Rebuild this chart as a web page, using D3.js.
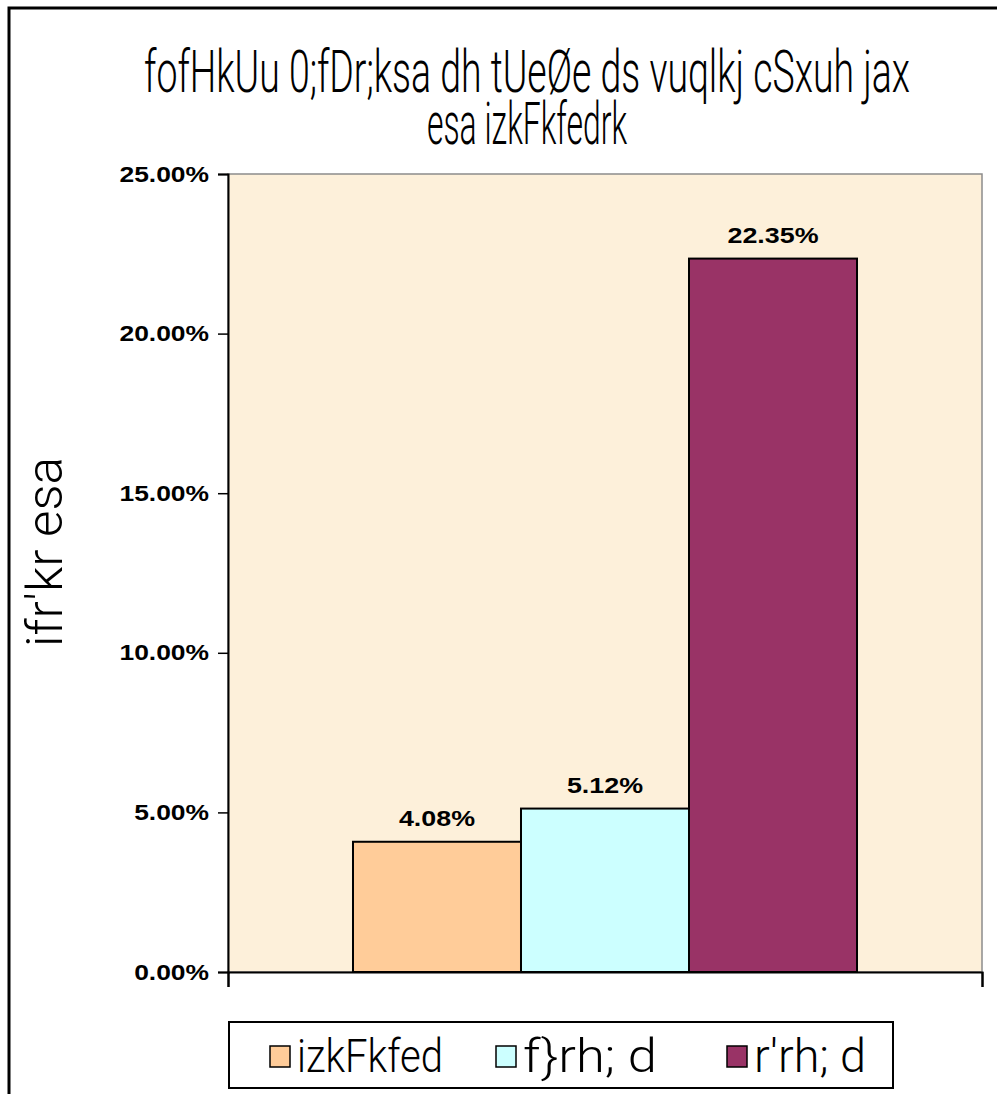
<!DOCTYPE html>
<html>
<head>
<meta charset="utf-8">
<script src="https://cdn.jsdelivr.net/npm/d3@7"></script>
<style>
  body { margin: 0; background: #fff; }
  svg { display: block; }
</style>
</head>
<body>
<svg id="chart" width="997" height="1094"></svg>
<script>
const seriesNames = ["izkFkfed", "f}rh; d", "r'rh; d"];
const seriesValues = [0.0408, 0.0512, 0.2235];
const seriesColors = ["#FFCC99", "#CCFFFF", "#993366"];
const categories = [""];
const yTicks = [0, 0.05, 0.10, 0.15, 0.20, 0.25];
const titleLines = ["fofHkUu 0;fDr;ksa dh tUeØe ds vuqlkj cSxuh jax", "esa izkFkfedrk"];
const yLabel = "ifr'kr esa";

const NARROW = "Roboto, Lato, 'DejaVu Sans Condensed', sans-serif";
const NUM = "'Liberation Sans', Arial, sans-serif";

const plot = { left: 228, right: 982, top: 174, bottom: 972 };
const svg = d3.select("#chart");

// stretch a text horizontally, the reference numbers are set wide
const widen = (sel, k) => sel
    .attr("textLength", function () { return this.getComputedTextLength() * k; })
    .attr("lengthAdjust", "spacingAndGlyphs");

// outer chart border (only left and top visible in the frame)
svg.append("rect")
    .attr("x", 9).attr("y", 8)
    .attr("width", 1100).attr("height", 1200)
    .attr("fill", "#fff")
    .attr("stroke", "#000")
    .attr("stroke-width", 3);

// title
svg.append("g").selectAll("text")
    .data(titleLines)
    .enter()
    .append("text")
    .attr("x", 527)
    .attr("y", (d, i) => 92 + i * 52)
    .attr("text-anchor", "middle")
    .style("font-family", NARROW)
    .style("font-weight", "300")
    .style("font-size", "60px")
    .attr("textLength", (d, i) => i === 0 ? 766 : 200)
    .attr("lengthAdjust", "spacingAndGlyphs")
    .attr("fill", "#000")
    .text(d => d);

// plot area background
svg.append("rect")
    .attr("x", plot.left).attr("y", plot.top)
    .attr("width", plot.right - plot.left)
    .attr("height", plot.bottom - plot.top)
    .attr("fill", "#FDF0DA")
    .attr("stroke", "#8c8c8c")
    .attr("stroke-width", 1.5);

const y = d3.scaleLinear().domain([0, 0.25]).range([plot.bottom, plot.top]);
const x0 = d3.scaleBand().domain(categories).range([plot.left, plot.right]).paddingOuter(0.248);
const x1 = d3.scaleBand().domain(seriesNames).range([0, x0.bandwidth()]);

// y axis
const yAxis = svg.append("g")
    .attr("transform", `translate(${plot.left},0)`)
    .call(d3.axisLeft(y).tickValues(yTicks).tickFormat(d3.format(".2%")).tickSize(10).tickPadding(9));
yAxis.select(".domain").attr("stroke", "#000").attr("stroke-width", 2);
yAxis.selectAll(".tick line").attr("stroke", "#000").attr("stroke-width", 1.5);
yAxis.selectAll(".tick text")
    .style("font-family", NUM)
    .style("font-weight", "bold")
    .style("font-size", "22px")
    .attr("fill", "#000")
    .call(widen, 1.2);

// bars
const barGroup = svg.append("g").attr("transform", `translate(${x0(categories[0])},0)`);
barGroup.selectAll("rect")
    .data(seriesNames)
    .enter()
    .append("rect")
    .attr("x", d => x1(d))
    .attr("y", (d, i) => y(seriesValues[i]))
    .attr("width", x1.bandwidth())
    .attr("height", (d, i) => y(0) - y(seriesValues[i]))
    .attr("fill", (d, i) => seriesColors[i])
    .attr("stroke", "#000")
    .attr("stroke-width", 2);

// data labels
barGroup.selectAll("text")
    .data(seriesNames)
    .enter()
    .append("text")
    .attr("x", d => x1(d) + x1.bandwidth() / 2)
    .attr("y", (d, i) => y(seriesValues[i]) - 16)
    .attr("text-anchor", "middle")
    .style("font-family", NUM)
    .style("font-weight", "bold")
    .style("font-size", "22px")
    .attr("fill", "#000")
    .text((d, i) => d3.format(".2%")(seriesValues[i]))
    .call(widen, 1.22);

// x axis
const xAxis = svg.append("g")
    .attr("transform", `translate(0,${plot.bottom})`)
    .call(d3.axisBottom(d3.scaleLinear().domain([0, 1]).range([plot.left, plot.right]))
        .tickValues([0, 1]).tickFormat("").tickSize(15));
xAxis.select(".domain").attr("stroke", "#000").attr("stroke-width", 2);
xAxis.selectAll(".tick line").attr("stroke", "#000").attr("stroke-width", 2);

// y axis title
svg.append("text")
    .attr("transform", "translate(62,552) rotate(-90)")
    .attr("text-anchor", "middle")
    .style("font-family", NARROW)
    .style("font-weight", "300")
    .style("font-size", "50px")
    .attr("textLength", 190)
    .attr("lengthAdjust", "spacingAndGlyphs")
    .attr("fill", "#000")
    .text(yLabel);

// legend
const legend = svg.append("g");
legend.append("rect")
    .attr("x", 229).attr("y", 1022)
    .attr("width", 664).attr("height", 66)
    .attr("fill", "#fff")
    .attr("stroke", "#000")
    .attr("stroke-width", 2);

const legendX = [270, 496, 727];
const legendLen = [146, 134, 112];
const items = legend.selectAll("g.item")
    .data(seriesNames)
    .enter()
    .append("g")
    .attr("class", "item")
    .attr("transform", (d, i) => `translate(${legendX[i]},1046)`);
items.append("rect")
    .attr("width", 20).attr("height", 21)
    .attr("fill", (d, i) => seriesColors[i])
    .attr("stroke", "#000")
    .attr("stroke-width", 1.5);
items.append("text")
    .attr("x", 27)
    .attr("y", 26)
    .style("font-family", NARROW)
    .style("font-weight", "300")
    .style("font-size", "46px")
    .attr("textLength", (d, i) => legendLen[i])
    .attr("lengthAdjust", "spacingAndGlyphs")
    .attr("fill", "#000")
    .text(d => d);
</script>
</body>
</html>
